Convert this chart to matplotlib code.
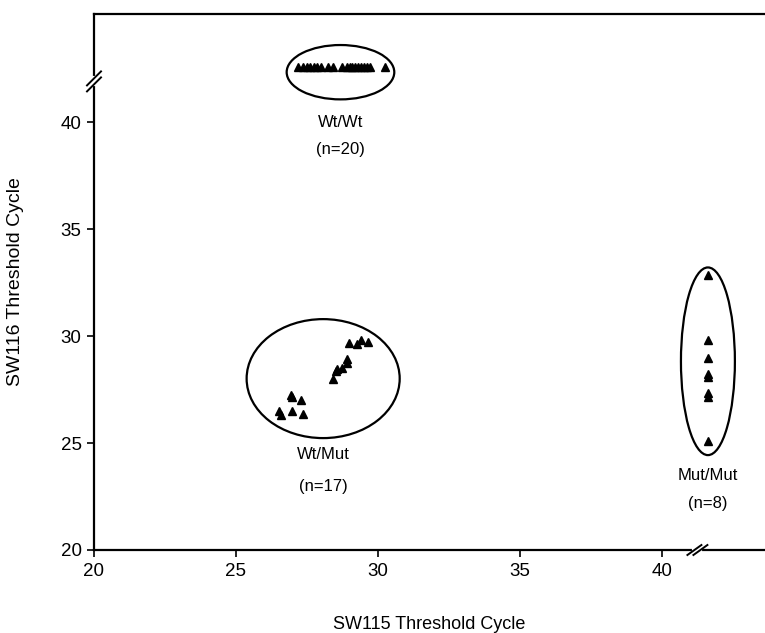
import matplotlib
matplotlib.use("Agg")
import matplotlib.pyplot as plt
from matplotlib.patches import Ellipse

plt.rcParams['font.family'] = ['Liberation Sans', 'DejaVu Sans']

# Data (SW115 threshold cycle, SW116 threshold cycle)
wtwt_x = [27.2, 27.35, 27.5, 27.62, 27.75, 27.87, 28.0,
          28.25, 28.4, 28.75, 28.9, 29.0, 29.1, 29.2, 29.3, 29.4, 29.5, 29.62, 29.72, 30.25]
wtwt_y = [42.58] * 20

wtmut_x = [28.99, 29.27, 29.39, 29.66, 28.90, 28.92, 28.74, 28.57, 28.51, 28.43,
           26.93, 26.98, 27.28, 26.51, 26.60, 26.98, 27.37]
wtmut_y = [29.69, 29.63, 29.81, 29.71, 28.91, 28.75, 28.49, 28.46, 28.38, 27.98,
           27.24, 27.16, 27.01, 26.50, 26.31, 26.50, 26.36]

mutmut_x = [41.62] * 8
mutmut_y = [32.85, 29.81, 28.96, 28.21, 28.07, 27.32, 27.16, 25.09]

# Group ellipses: (center x, center y, width, height)
groups = ["Wt/Wt", "Wt/Mut", "Mut/Mut"]
counts = ["(n=20)", "(n=17)", "(n=8)"]
ell_cx = [28.68, 28.07, 41.62]
ell_cy = [42.33, 28.01, 28.82]
ell_w = [3.79, 5.39, 1.90]
ell_h = [2.54, 5.56, 8.77]
label_y = [40.0, 24.44, 23.50]
count_y = [38.74, 22.99, 22.15]

xticks = [20, 25, 30, 35, 40]
yticks = [20, 25, 30, 35, 40]
x_break = 41.25
y_break = 41.9

fig = plt.figure(figsize=(7.65, 6.33), dpi=100)
ax = fig.add_axes([94/765, 1-550/633, 1-94/765, (550-14)/633])
ax.set_xlim(20, 43.63)
ax.set_ylim(20, 45.05)

for xs, ys in [(wtwt_x, wtwt_y), (wtmut_x, wtmut_y), (mutmut_x, mutmut_y)]:
    ax.plot(xs, ys, linestyle='none', marker='^', color='black', markersize=5.3,
            clip_on=False)

for cx, cy, w, h in zip(ell_cx, ell_cy, ell_w, ell_h):
    ax.add_patch(Ellipse((cx, cy), w, h, fill=False, edgecolor='black', linewidth=1.6))

for g, n, cx, ly, cy in zip(groups, counts, ell_cx, label_y, count_y):
    ax.text(cx, ly, g, ha='center', va='center', fontsize=12)
    ax.text(cx, cy, n, ha='center', va='center', fontsize=12)

ax.spines['right'].set_visible(False)
for s in ['left', 'bottom', 'top']:
    ax.spines[s].set_linewidth(1.6)
ax.set_xticks(xticks)
ax.set_yticks(yticks)
ax.tick_params(direction='out', length=5, width=1.2, labelsize=13.5, pad=4)
ax.set_xlabel("SW115 Threshold Cycle", fontsize=13, labelpad=26)
ax.set_ylabel("SW116 Threshold Cycle", fontsize=14, labelpad=26)

# axis break marks
tr = ax.transData
inv = ax.transAxes.inverted()
px = 1 / (fig.get_figwidth() * fig.dpi * ax.get_position().width)
py = 1 / (fig.get_figheight() * fig.dpi * ax.get_position().height)
# y-axis break
_, by = inv.transform(tr.transform((20, y_break)))
ax.plot([0, 0], [by - 3*py, by + 3*py], color='white', lw=3, transform=ax.transAxes,
        clip_on=False, zorder=5)
for off in (-3, 3):
    ax.plot([-7*px, 7*px], [by + off*py - 7*py, by + off*py + 7*py], color='black', lw=1.4,
            transform=ax.transAxes, clip_on=False, zorder=6)
# x-axis break
bx2, _ = inv.transform(tr.transform((x_break, 20)))
ax.plot([bx2 - 3*px, bx2 + 3*px], [0, 0], color='white', lw=3, transform=ax.transAxes,
        clip_on=False, zorder=5)
for off in (-3, 3):
    ax.plot([bx2 + off*px - 7*px, bx2 + off*px + 7*px], [-5*py, 5*py], color='black', lw=1.4,
            transform=ax.transAxes, clip_on=False, zorder=6)

fig.savefig("out.png", dpi=100)
